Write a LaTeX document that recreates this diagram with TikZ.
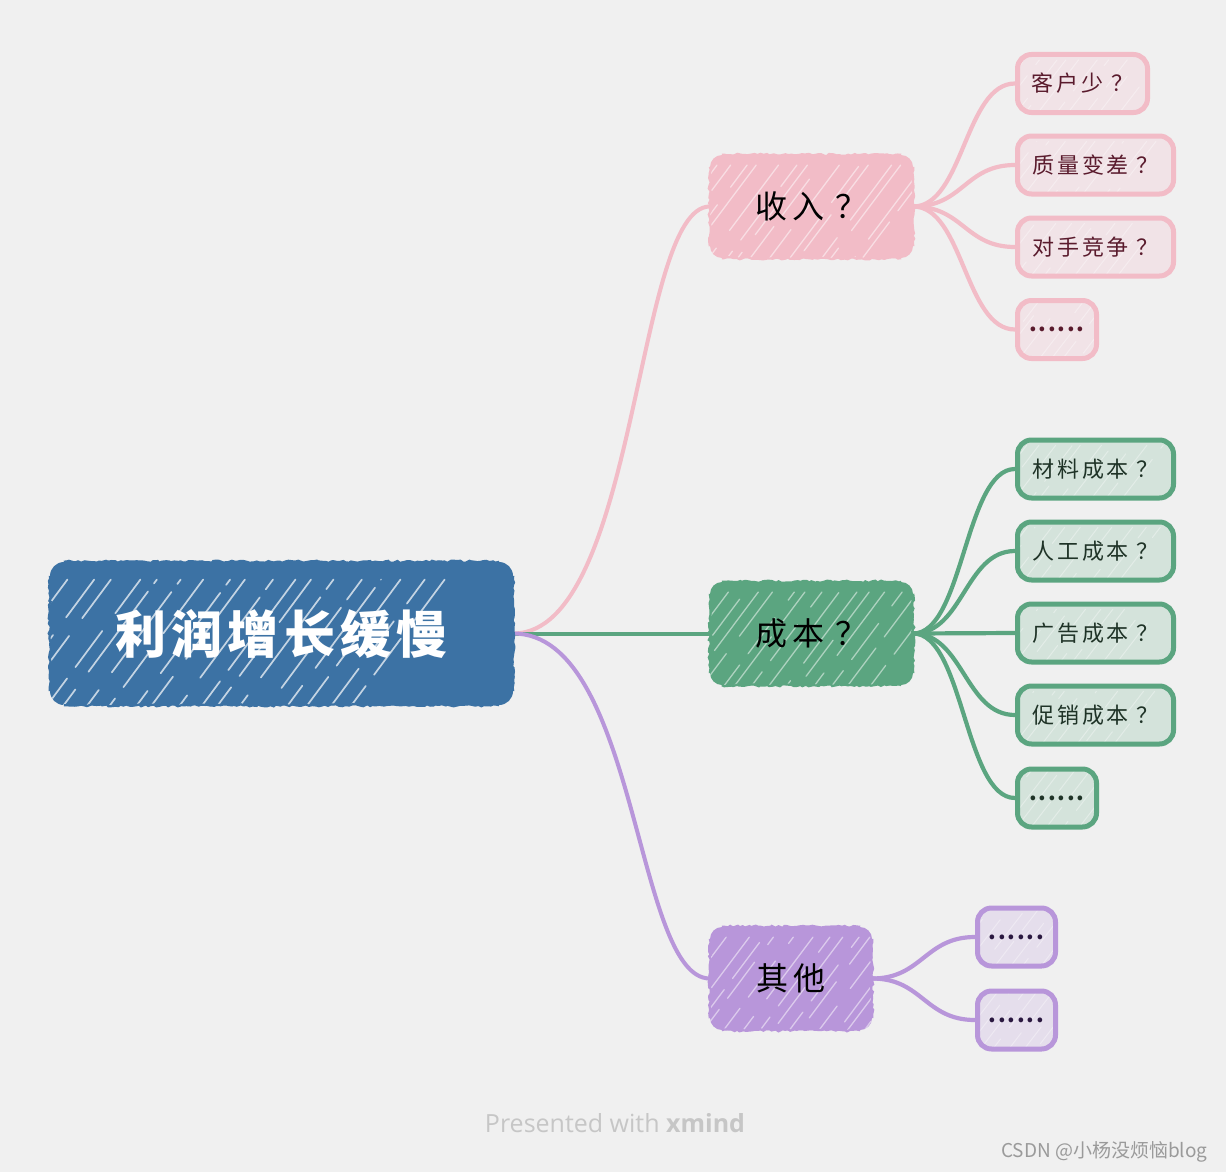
\documentclass[tikz,border=0pt]{standalone}
\usepackage{fontspec}
\setmainfont{Noto Sans CJK SC}
\newfontfamily\rtfont[LetterSpace=10]{Noto Sans CJK SC}
\newfontfamily\mnfont[LetterSpace=16]{Noto Sans CJK SC}
\newfontfamily\sbfont[LetterSpace=13]{Noto Sans CJK SC}
\newfontfamily\dtfont[LetterSpace=8]{Noto Sans CJK SC}
\newfontfamily\ftfont{Open Sans}
\usetikzlibrary{decorations.pathmorphing}
\pgfdeclarelayer{bgl}
\pgfdeclarelayer{conl}
\pgfsetlayers{bgl,conl,main}
\definecolor{bgc}{HTML}{F0F0F0}
\definecolor{rootc}{HTML}{3C72A4}
\definecolor{pinkc}{HTML}{F2BCC7}
\definecolor{pinkl}{HTML}{F1E3E7}
\definecolor{pinkt}{HTML}{5A1B2D}
\definecolor{greenc}{HTML}{5BA580}
\definecolor{greenl}{HTML}{D4E3DB}
\definecolor{greent}{HTML}{1F3327}
\definecolor{purpc}{HTML}{B896DA}
\definecolor{purpl}{HTML}{E5DEEC}
\definecolor{purpt}{HTML}{2A1840}
\definecolor{footc}{HTML}{C6C6C6}
\definecolor{csdnc}{HTML}{9A9A9A}
\newcommand\qm{\hspace{0.35em}？}
\newcommand\sixdots{{\dtfont\bfseries ......}}
% hatching inside a node: #1 width, #2 height, #3 spacing, #4 opacity, #5 line width
\newcommand\hatchin[5]{%
  \begin{scope}[shift={(path picture bounding box.center)}]
    \pgfmathsetmacro\xs{-#1/2-0.72*#2}
    \pgfmathsetmacro\xt{\xs+#3}
    \pgfmathsetmacro\xe{#1/2}
    \foreach \xx in {\xs,\xt,...,\xe} {
      \pgfmathsetmacro\jit{rnd*10}
      \pgfmathsetmacro\ph{rnd*120}
      \draw[hatchline, opacity=#4, line width=#5, dash phase=\ph pt] (\xx+\jit,#2/2+2) -- ++(0.72*#2+6,-#2-4);
    }
  \end{scope}}
\newcommand\roughsides[3]{%
  \draw[roughedge, #3] ([xshift=#2]#1.north west) -- ([xshift=-#2]#1.north east);
  \draw[roughedge, #3] ([xshift=#2]#1.south west) -- ([xshift=-#2]#1.south east);
  \draw[roughedge, #3] ([yshift=-#2]#1.north west) -- ([yshift=#2]#1.south west);
  \draw[roughedge, #3] ([yshift=-#2]#1.north east) -- ([yshift=#2]#1.south east);}
\tikzset{
  hatchline/.style={white, line cap=round, dash pattern=on 80pt off 14pt on 45pt off 22pt on 100pt off 10pt on 25pt off 30pt},
  rootbox/.style={fill=rootc, rounded corners=14pt, minimum width=463pt, minimum height=143pt,
    text=white, font=\rtfont\bfseries\fontsize{51}{60}\selectfont, inner sep=0pt,
    path picture={\hatchin{463}{143}{22}{0.7}{1.7pt}}},
  mainbox/.style={rounded corners=12pt, minimum height=103pt, inner sep=0pt,
    font=\mnfont\fontsize{32}{38}\selectfont, text=black,
    path picture={\hatchin{203}{103}{16}{0.5}{1.3pt}}},
  subbox/.style={rounded corners=14pt, line width=5pt, minimum height=58pt, inner sep=0pt,
    font=\sbfont\fontsize{22}{26}\selectfont,
    path picture={\hatchin{160}{60}{15}{0.35}{1pt}}},
  pinksub/.style={subbox, draw=pinkc, fill=pinkl, text=pinkt},
  greensub/.style={subbox, draw=greenc, fill=greenl, text=greent},
  purpsub/.style={subbox, draw=purpc, fill=purpl, text=purpt},
  conn/.style={line width=4pt, line cap=round},
  subconn/.style={line width=4.2pt, line cap=round},
  roughedge/.style={line width=2.2pt, decorate, decoration={random steps,segment length=3pt,amplitude=1.1pt}},
}
\begin{document}
\begin{tikzpicture}[x=1pt,y=-1pt]
\pgfmathsetseed{7}
\useasboundingbox (0,0) rectangle (1226,1172);
\begin{pgfonlayer}{bgl}
  \fill[bgc] (0,0) rectangle (1226,1172);
\end{pgfonlayer}

% root
\node[rootbox] (root) at (281.5,633.5) {利润增长缓慢};
% main nodes
\node[mainbox, fill=pinkc, minimum width=203pt] (m1) at (811.5,206.5) {收入\qm};
\node[mainbox, fill=greenc, minimum width=203pt] (m2) at (811.5,633.5) {成本\qm};
\node[mainbox, fill=purpc, minimum width=162pt] (m3) at (791,978.5) {其他};

% sub nodes
\node[pinksub, minimum width=130pt] (p1) at (1082.5,83.5) {客户少\qm};
\node[pinksub, minimum width=156pt] (p2) at (1095.5,165) {质量变差\qm};
\node[pinksub, minimum width=156pt] (p3) at (1095.5,247) {对手竞争\qm};
\node[pinksub, minimum width=79pt] (p4) at (1057,329.5) {\sixdots};

\node[greensub, minimum width=156pt] (g1) at (1095.5,469) {材料成本\qm};
\node[greensub, minimum width=156pt] (g2) at (1095.5,551) {人工成本\qm};
\node[greensub, minimum width=156pt] (g3) at (1095.5,633) {广告成本\qm};
\node[greensub, minimum width=156pt] (g4) at (1095.5,715) {促销成本\qm};
\node[greensub, minimum width=79pt] (g5) at (1057,798) {\sixdots};

\node[purpsub, minimum width=78pt] (u1) at (1016.5,937) {\sixdots};
\node[purpsub, minimum width=78pt] (u2) at (1016.5,1020) {\sixdots};

% connectors
\begin{pgfonlayer}{conl}
  \draw[conn, pinkc] (root.east) .. controls +(125,0) and +(-75,0) .. (m1.west);
  \draw[conn, greenc] (root.east) .. controls +(80,0) and +(-80,0) .. (m2.west);
  \draw[conn, purpc] (root.east) .. controls +(125,0) and +(-75,0) .. (m3.west);
  \foreach \s in {p1,p2,p3,p4} \draw[subconn, pinkc] (m1.east) .. controls +(50,0) and +(-50,0) .. (\s.west);
  \foreach \s in {g1,g2,g3,g4,g5} \draw[subconn, greenc] (m2.east) .. controls +(50,0) and +(-50,0) .. (\s.west);
  \foreach \s in {u1,u2} \draw[subconn, purpc] (m3.east) .. controls +(50,0) and +(-50,0) .. (\s.west);
\end{pgfonlayer}

% rough edges on straight sides
\roughsides{root}{14pt}{rootc}
\roughsides{m1}{12pt}{pinkc}
\roughsides{m2}{12pt}{greenc}
\roughsides{m3}{12pt}{purpc}

% footer
\node[font=\ftfont\fontsize{25}{30}\selectfont, text=footc] (foot) at (615,1123) {Presented with \textbf{xmind}};
\node[anchor=east, font=\fontsize{19}{23}\selectfont, text=csdnc] (csdn) at (1211,1152) {CSDN @小杨没烦恼blog};
\end{tikzpicture}
\end{document}
